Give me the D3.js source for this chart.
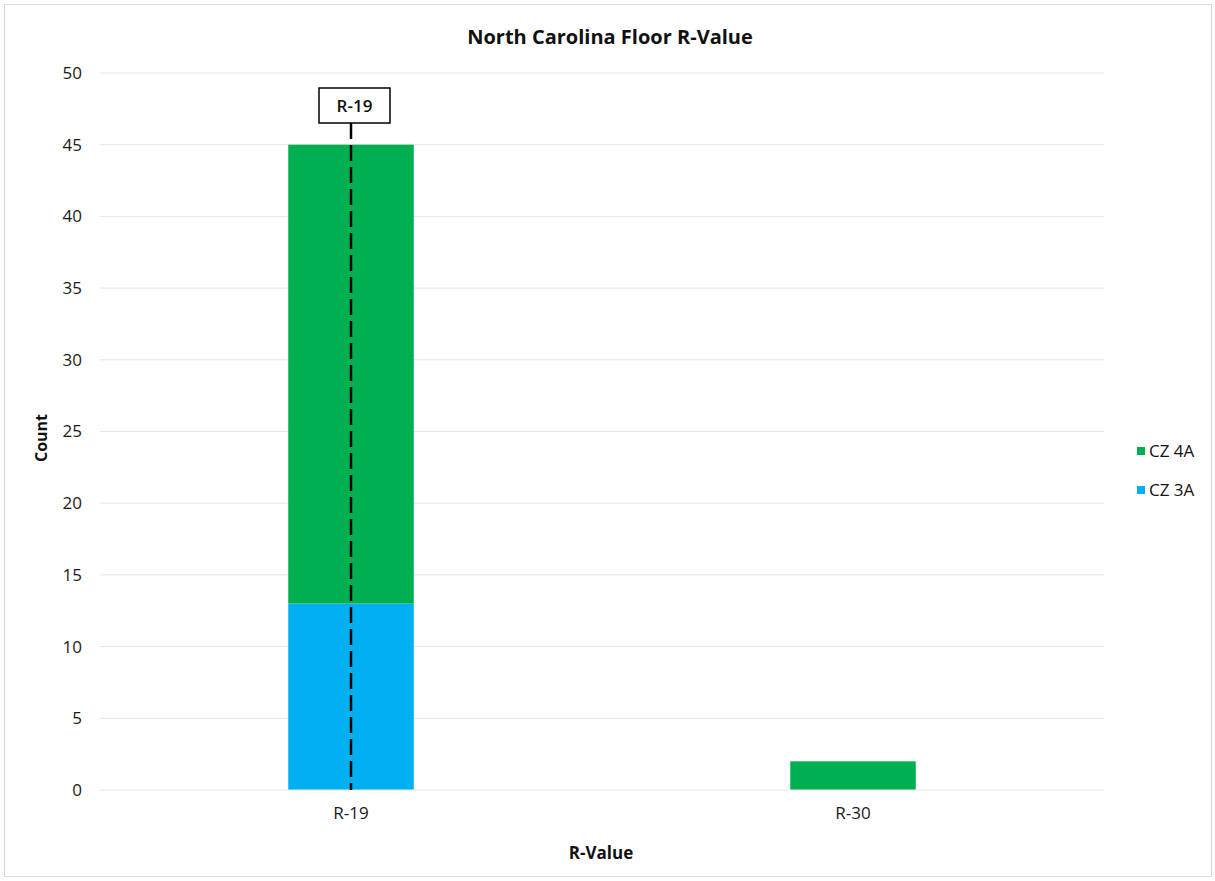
<!DOCTYPE html>
<html><head><meta charset="utf-8">
<script src="https://cdn.jsdelivr.net/npm/d3@7"></script>
<style>body{margin:0;background:#fff;} text{font-family:"Open Sans","Liberation Sans",sans-serif;}</style>
</head><body>
<svg id="c" width="1215" height="881"></svg>
<script>
const categories = ["R-19", "R-30"];
const seriesNames = ["CZ 3A", "CZ 4A"];
const cz3A = [13, 0];
const cz4A = [32, 2];
const yTicks = [0, 5, 10, 15, 20, 25, 30, 35, 40, 45, 50];
const refLabel = "R-19";
const colors = {"CZ 3A": "#00B0F0", "CZ 4A": "#00B050"};

const svg = d3.select("#c");
svg.append("rect").attr("x",4.5).attr("y",4.5).attr("width",1207).attr("height",872)
  .attr("fill","#fff").attr("stroke","#d9d9d9");

const m = {l:100, r:1104, t:73, b:790};
const x = d3.scaleBand().domain(categories).range([m.l, m.r]).paddingInner(0.75).paddingOuter(0.375);
const y = d3.scaleLinear().domain([0, 50]).range([m.b, m.t]);

// gridlines
svg.append("g").selectAll("line").data(yTicks.filter(d=>d>0)).join("line")
  .attr("x1", m.l).attr("x2", m.r).attr("y1", d=>y(d)).attr("y2", d=>y(d))
  .attr("stroke", "#e6e6e6").attr("stroke-width", 1);

// data
const rows = categories.map((c,i)=>({cat:c, "CZ 3A":cz3A[i], "CZ 4A":cz4A[i]}));
const stacked = d3.stack().keys(seriesNames)(rows);
svg.append("g").selectAll("g").data(stacked).join("g").attr("fill", d=>colors[d.key])
  .selectAll("rect").data(d=>d).join("rect")
  .attr("x", d=>x(d.data.cat)).attr("width", x.bandwidth())
  .attr("y", d=>y(d[1])).attr("height", d=>y(d[0])-y(d[1]));

// axis baseline
svg.append("line").attr("x1", m.l).attr("x2", m.r).attr("y1", y(0)).attr("y2", y(0)).attr("stroke","#e6e6e6");

// y axis
const yAxis = d3.axisLeft(y).tickValues(yTicks).tickSize(0).tickPadding(0);
const ya = svg.append("g").attr("transform", `translate(82,0)`).call(yAxis);
ya.select(".domain").remove();
ya.selectAll("text").attr("font-size", 17).attr("fill", "#1a1a1a").attr("font-family","'Open Sans',sans-serif");

// x axis
const xAxis = d3.axisBottom(x).tickSize(0).tickPadding(0);
const xa = svg.append("g").attr("transform", `translate(0,${y(0)+17})`).call(xAxis);
xa.select(".domain").remove();
xa.selectAll("text").attr("font-size", 17).attr("fill", "#1a1a1a").attr("dy","0.71em").attr("font-family","'Open Sans',sans-serif");

// reference line
const cx = x(refLabel) + x.bandwidth()/2;
svg.append("line").attr("x1", cx).attr("x2", cx).attr("y1", 123).attr("y2", y(0))
  .attr("stroke", "#000").attr("stroke-width", 2.5).attr("stroke-dasharray", "16,6");
svg.append("rect").attr("x", cx-32).attr("y", 88).attr("width", 71).attr("height", 35)
  .attr("fill", "#fff").attr("stroke", "#000").attr("stroke-width", 1.5);
svg.append("text").attr("x", cx+3.5).attr("y", 112).attr("text-anchor","middle")
  .attr("font-size", 17).attr("font-weight","600").attr("fill","#111").text(refLabel);

// title
svg.append("text").attr("x", 610).attr("y", 44).attr("text-anchor","middle")
  .attr("font-size", 20).attr("font-weight","bold").attr("fill","#111").text("North Carolina Floor R-Value");
// axis titles
svg.append("text").attr("transform","translate(47,438) rotate(-90)").attr("text-anchor","middle")
  .attr("font-size", 16).attr("font-weight","bold").attr("fill","#111").text("Count");
svg.append("text").attr("x", 601).attr("y", 859).attr("text-anchor","middle")
  .attr("font-size", 17).attr("font-weight","bold").attr("fill","#111").text("R-Value");

// legend
const legendOrder = ["CZ 4A", "CZ 3A"];
const lg = svg.append("g").selectAll("g").data(legendOrder).join("g")
  .attr("transform", (d,i)=>`translate(1137,${451 + i*39})`);
lg.append("rect").attr("x",0).attr("y",-4).attr("width",8).attr("height",8).attr("fill", d=>colors[d]);
lg.append("text").attr("x",12).attr("y",6).attr("font-size",17).attr("fill","#111").text(d=>d);
</script>
</body></html>
